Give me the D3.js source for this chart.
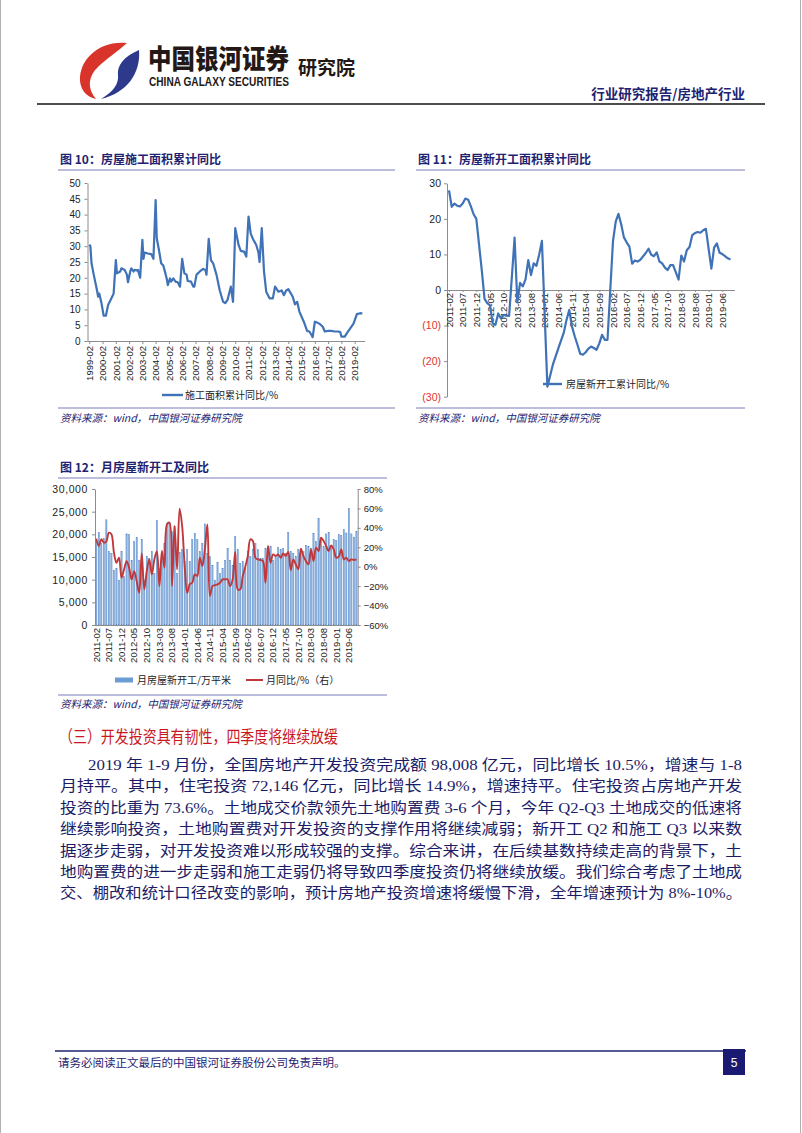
<!DOCTYPE html>
<html><head><meta charset="utf-8">
<script src="https://cdn.jsdelivr.net/npm/d3@7"></script>
<style>
html,body{margin:0;padding:0;background:#fff;}
svg{display:block;}
</style></head><body>
<svg id="page" width="802" height="1133"></svg>
<script>
// ---------------- DATA ----------------
// Fig 10: 房屋施工面积累计同比 (%)
const dates10 = ["1999-02","1999-03","1999-04","1999-06","1999-09","1999-10","1999-11","2000-01","2000-03","2000-05","2000-07","2000-10","2000-12",
"2001-02","2001-03","2001-06","2001-07","2001-10","2001-12","2002-01","2002-03","2002-04","2002-06","2002-07","2002-09","2002-10","2002-12",
"2003-02","2003-03","2003-04","2003-07","2003-10","2003-12","2004-02","2004-03","2004-05","2004-07","2004-09","2004-10","2004-12",
"2005-01","2005-03","2005-04","2005-06","2005-08","2005-10","2005-12","2006-02","2006-04","2006-06","2006-07","2006-10","2006-12",
"2007-01","2007-03","2007-06","2007-09","2007-11","2007-12","2008-02","2008-04","2008-06","2008-09","2008-12","2009-03","2009-05","2009-07","2009-10","2009-12",
"2010-02","2010-05","2010-07","2010-10","2010-12","2011-02","2011-04","2011-06","2011-09","2011-11","2011-12","2012-02","2012-04","2012-06","2012-09","2012-12",
"2013-02","2013-05","2013-08","2013-10","2013-12","2014-02","2014-06","2014-08","2014-10","2014-12","2015-04","2015-07","2015-09","2015-11","2015-12",
"2016-02","2016-03","2016-06","2016-09","2016-11","2017-02","2017-05","2017-08","2017-11","2018-01","2018-02","2018-05","2018-07","2018-10","2019-01","2019-04","2019-07","2019-09"];
const values10 = [30.5,30,24.6,21,16,14,15,12,8,8,11.4,13.5,15,
25.6,21.4,22,23,22.5,21,18.6,22,23,22,22.5,22.3,22.5,20,
32,26,28,27.7,27.5,26,44.6,32.5,28.8,24.6,23.8,22.5,19.8,
17.7,19.8,18.8,19.8,18.8,18.6,17.2,26,21.4,21,19,18.8,17.2,
17.2,21,22,22.8,22.5,21,32.3,25.6,24.6,21,16,12.4,12,13,17.2,12.4,
35.7,30.4,28.5,28.3,26.7,39.4,34,32.3,30.4,28,25,35.7,22,15.6,13.5,13.5,
17.2,15.6,16,14.5,16,16.4,14,11.6,12.4,9.3,6.1,3.2,3,1.9,1.2,
6.1,6,5.5,4.6,3,3.2,3.2,3.0,3.0,2.8,1.4,1.4,2.5,4,5.5,8.5,8.8,8.7];
const xLabels10 = ["1999-02","2000-02","2001-02","2002-02","2003-02","2004-02","2005-02","2006-02","2007-02","2008-02","2009-02","2010-02","2011-02","2012-02","2013-02","2014-02","2015-02","2016-02","2017-02","2018-02","2019-02"];
const yTicks10 = [0,5,10,15,20,25,30,35,40,45,50];

// Fig 11: 房屋新开工累计同比 (%)
const dates11 = ["2011-02","2011-03","2011-04","2011-05","2011-06","2011-07","2011-08","2011-09","2011-10","2011-11","2011-12",
"2012-02","2012-03","2012-04","2012-05","2012-06","2012-07","2012-08","2012-09","2012-10","2012-11","2012-12",
"2013-02","2013-03","2013-04","2013-05","2013-06","2013-07","2013-08","2013-09","2013-10","2013-11","2013-12",
"2014-02","2014-04","2014-06","2014-08","2014-09","2014-10","2014-11","2014-12",
"2015-01","2015-02","2015-03","2015-04","2015-05","2015-06","2015-07","2015-08","2015-09","2015-10","2015-11","2015-12",
"2016-02","2016-03","2016-04","2016-05","2016-06","2016-07","2016-08","2016-09","2016-10","2016-11","2016-12",
"2017-02","2017-03","2017-04","2017-05","2017-06","2017-07","2017-08","2017-09","2017-10","2017-11","2017-12",
"2018-02","2018-03","2018-04","2018-05","2018-06","2018-07","2018-08","2018-09","2018-10","2018-11","2018-12",
"2019-02","2019-03","2019-04","2019-05","2019-06","2019-07","2019-08","2019-09"];
const values11 = [28,23.4,24.3,23.7,23.5,24.3,25.7,25.4,23.5,21.3,20,
5.5,-2.5,-3.7,-4.3,-9.4,-9.8,-6.6,-8,-7,-7.2,-7.3,
14.7,-3.5,2,1,3,8.4,4.2,7.5,6.8,10,13.8,
-27.2,-21,-16.4,-12,-8.4,-5.6,-10.3,-13,
-15.4,-17.9,-18.2,-17.5,-16.5,-15.9,-16.3,-16.8,-15,-12.6,-14,-14,
13.7,19.2,21.4,18.5,14.8,13.4,12.2,7.4,8.3,8.0,8.5,
10.4,11.6,9.9,9.5,10.6,8.0,7.5,6.3,5.6,7.0,7.0,
2.9,9.7,8.0,11.2,12.1,15.4,16.0,16.3,16.1,16.8,17.2,
6.0,11.9,13.1,10.5,10.1,9.5,8.9,8.6];
const xLabels11 = ["2011-02","2011-07","2011-12","2012-05","2012-10","2013-03","2013-08","2014-01","2014-06","2014-11","2015-04","2015-09","2016-02","2016-07","2016-12","2017-05","2017-10","2018-03","2018-08","2019-01","2019-06"];
const yTicks11 = [-30,-20,-10,0,10,20,30];

// Fig 12: 月房屋新开工 (万平米) & 月同比 (%), 2011-02 .. 2019-09
const starts12 = [18600,20400,18000,19100,23200,16200,15800,12100,12500,9900,16200,10700,
20100,19900,14300,18400,19300,14300,18900,9900,15100,14700,16200,11400,
23000,12500,15100,18000,22400,22400,20600,21700,11400,16000,16600,14000,
16600,14000,18800,20200,18800,16200,18000,22300,15800,15100,13200,9900,
13800,11400,12500,14300,16900,14300,13200,19500,16600,13600,14000,12500,
16200,15100,16700,18000,16600,14700,14700,16900,15700,17300,14300,15100,
17100,16600,16900,15800,20400,16200,15800,15200,16700,16400,16200,17600,
17300,16900,20200,18400,23500,19100,17300,20100,20400,17600,18800,18700,
19900,19800,21000,20300,25700,20100,19400,20600];
const yoy12 = [28.9,21.4,28.2,24.8,26,35,33.3,14.4,4.1,9.3,-11.3,-2.8,
5.8,-1.0,-13,-4.5,-14.8,-26.8,13.7,-23.3,-4.5,7.5,-7.9,7.5,
16.1,-20,16.1,-1,43.6,45.3,-20,41.9,-2.8,59.7,41.9,0.6,
-26.8,-18,-16.5,-7.9,-9.6,9.3,0.6,17.8,43.6,-30.2,-20,-19,
-18.2,-16.5,-13,-13,-13,-20,-13,15.1,-23.3,-23.3,-9.6,0,
11,28.2,26.5,9.3,7.5,6.9,5.8,-16.5,21.4,4.1,12.7,11.0,
12.7,9.3,13.7,11.0,15.1,-3.5,7.5,2.4,-2.8,18.5,11.0,5.8,
2.4,17.8,5.8,19.5,16.1,29.9,26.5,21.4,16.1,22.0,17.8,9.3,
10.3,17.8,7.5,9.3,5.8,7.5,6.9,7.5];
const leftTicks12 = [0,5000,10000,15000,20000,25000,30000];
const rightTicks12 = [-60,-40,-20,0,20,40,60,80];

const bodyLines = [
"2019 年 1-9 月份，全国房地产开发投资完成额 98,008 亿元，同比增长 10.5%，增速与 1-8",
"月持平。其中，住宅投资 72,146 亿元，同比增长 14.9%，增速持平。住宅投资占房地产开发",
"投资的比重为 73.6%。土地成交价款领先土地购置费 3-6 个月，今年 Q2-Q3 土地成交的低速将",
"继续影响投资，土地购置费对开发投资的支撑作用将继续减弱；新开工 Q2 和施工 Q3 以来数",
"据逐步走弱，对开发投资难以形成较强的支撑。综合来讲，在后续基数持续走高的背景下，土",
"地购置费的进一步走弱和施工走弱仍将导致四季度投资仍将继续放缓。我们综合考虑了土地成",
"交、棚改和统计口径改变的影响，预计房地产投资增速将缓慢下滑，全年增速预计为 8%-10%。"];

// ---------------- DRAW ----------------
const svg = d3.select('#page');
const CJK = '"Noto Sans CJK SC", sans-serif';
const LAT = '"Liberation Sans", Arial, sans-serif';
const NAVY = '#1e2270';
const BLUE = '#3f72b6';
const RED = '#c0383a';
const RULE = '#7b7bb8';

svg.append('rect').attr('width',802).attr('height',1133).attr('fill','#fff');
svg.append('line').attr('x1',0.5).attr('x2',0.5).attr('y1',0).attr('y2',1133).attr('stroke','#b0b0b0');
svg.append('line').attr('x1',800.5).attr('x2',800.5).attr('y1',0).attr('y2',1133).attr('stroke','#b0b0b0');

// Header logo
svg.append('path').attr('fill','#d9342b')
  .attr('d','M127,43 C101,40 79,58 80,81 C81,91 87,97 96,99 C87,89 88,76 98,67 C106,59 117,52 127,43 Z');
svg.append('path').attr('fill','#2d3a8c')
  .attr('d','M139,50 C141,73 127,93 101,99 C113,92 119,84 118,75 C117,66 123,57 139,50 Z');
svg.append('text').attr('transform','translate(148,69) scale(1,1.15)').text('中国银河证券')
  .attr('font-family',CJK).attr('font-weight',900).attr('font-size',23.5).attr('fill','#231815');
svg.append('text').attr('x',149).attr('y',86).text('CHINA GALAXY SECURITIES')
  .attr('font-family','"Liberation Sans Narrow", "Liberation Sans", Arial, sans-serif').attr('font-weight','bold')
  .attr('font-size',12).attr('fill','#231815').attr('textLength',140).attr('lengthAdjust','spacingAndGlyphs');
svg.append('text').attr('x',298).attr('y',75).text('研究院')
  .attr('font-family',CJK).attr('font-weight',700).attr('font-size',19).attr('fill','#231815');
svg.append('text').attr('x',745).attr('y',99).text('行业研究报告/房地产行业').attr('text-anchor','end')
  .attr('font-family',CJK).attr('font-weight',700).attr('font-size',13.5).attr('fill',NAVY);
svg.append('line').attr('x1',37).attr('x2',765).attr('y1',104).attr('y2',104).attr('stroke','#111').attr('stroke-width',1.6);

// helpers
function mIdx(s, base){ const [y,m]=s.split('-').map(Number); const [by,bm]=base.split('-').map(Number); return (y-by)*12+(m-bm); }
function styleAxis(g, fs){
  g.selectAll('path.domain').attr('stroke','#8c8c8c');
  g.selectAll('.tick line').attr('stroke','#8c8c8c');
  g.selectAll('text').attr('font-family',LAT).attr('font-size',fs).attr('fill','#222');
}
function chartFrame(x1,x2,yTitle,title,yBottom,ySrc){
  svg.append('text').attr('x',x1+2).attr('y',yTitle).text(title)
    .attr('font-family',CJK).attr('font-weight',700).attr('font-size',12).attr('fill',NAVY);
  svg.append('line').attr('x1',x1).attr('x2',x2).attr('y1',yTitle+6).attr('y2',yTitle+6).attr('stroke',RULE);
  svg.append('line').attr('x1',x1).attr('x2',x2).attr('y1',yBottom).attr('y2',yBottom).attr('stroke',RULE);
  svg.append('text').attr('x',x1+2).attr('y',ySrc).text('资料来源：wind，中国银河证券研究院')
    .attr('font-family',CJK).attr('font-style','italic').attr('font-size',10.5).attr('fill',NAVY);
}

// ---- Fig 10 ----
chartFrame(58,395,164,'图 10：房屋施工面积累计同比',408,422);
const x10 = d3.scaleLinear().domain([0,247]).range([89.3,362.4]);
const y10 = d3.scaleLinear().domain([0,50]).range([341,183]);
const gy10 = svg.append('g').attr('transform','translate(87.5,0)')
  .call(d3.axisLeft(y10).tickValues(yTicks10).tickSize(3).tickPadding(4).tickSizeOuter(0));
styleAxis(gy10,10);
const gx10 = svg.append('g').attr('transform','translate(0,341)')
  .call(d3.axisBottom(x10).tickValues(xLabels10.map(s=>mIdx(s,'1999-02'))).tickSize(3).tickSizeOuter(0)
    .tickFormat((d,i)=>xLabels10[i]));
gx10.select('path.domain').attr('d','M87.5,0.5H365');
styleAxis(gx10,9.5);
gx10.selectAll('.tick text').attr('transform','translate(0,5) rotate(-90)').attr('text-anchor','end')
  .attr('x',0).attr('y',0).attr('dy','0.35em');
const pts10 = dates10.map((d,i)=>[mIdx(d,'1999-02'),values10[i]]);
svg.append('path').datum(pts10).attr('fill','none').attr('stroke',BLUE).attr('stroke-width',2.2)
  .attr('stroke-linejoin','round')
  .attr('d',d3.line().x(d=>x10(d[0])).y(d=>y10(d[1])));
svg.append('line').attr('x1',162).attr('x2',183).attr('y1',395).attr('y2',395).attr('stroke',BLUE).attr('stroke-width',2.4);
svg.append('text').attr('x',185).attr('y',399).text('施工面积累计同比/%')
  .attr('font-family',CJK).attr('font-size',10).attr('fill','#222');

// ---- Fig 11 ----
chartFrame(416,745,164,'图 11：房屋新开工面积累计同比',408,422);
const x11 = d3.scaleLinear().domain([0,103]).range([449,730.5]);
const y11 = d3.scaleLinear().domain([-30,30]).range([396.7,183.3]);
const gy11 = svg.append('g').attr('transform','translate(447,0)')
  .call(d3.axisLeft(y11).tickValues(yTicks11).tickSize(3).tickPadding(3).tickSizeOuter(0)
    .tickFormat(d=> d<0 ? '('+Math.abs(d)+')' : String(d)));
styleAxis(gy11,10.5);
gy11.selectAll('.tick text').attr('fill',d=> d<0 ? '#e0322c' : '#222');
const gx11 = svg.append('g').attr('transform','translate(0,'+y11(0)+')')
  .call(d3.axisBottom(x11).tickValues(xLabels11.map(s=>mIdx(s,'2011-02'))).tickSize(2).tickSizeOuter(0)
    .tickFormat((d,i)=>xLabels11[i]));
gx11.select('path.domain').attr('d','M447,0.5H735');
styleAxis(gx11,9.5);
gx11.selectAll('.tick text').attr('transform','translate(0,3) rotate(-90)').attr('text-anchor','end')
  .attr('x',0).attr('y',0).attr('dy','0.35em');
const pts11 = dates11.map((d,i)=>[mIdx(d,'2011-02'),values11[i]]);
svg.append('path').datum(pts11).attr('fill','none').attr('stroke',BLUE).attr('stroke-width',2.2)
  .attr('stroke-linejoin','round')
  .attr('d',d3.line().x(d=>x11(d[0])).y(d=>y11(d[1])));
svg.append('line').attr('x1',543).attr('x2',562).attr('y1',384).attr('y2',384).attr('stroke',BLUE).attr('stroke-width',2.4);
svg.append('text').attr('x',566).attr('y',388).text('房屋新开工累计同比/%')
  .attr('font-family',CJK).attr('font-size',10).attr('fill','#222');

// ---- Fig 12 ----
chartFrame(58,387,472,'图 12：月房屋新开工及同比',695,708);
const months12 = d3.range(starts12.length).map(i=>{ const t=1+i; const y=2011+Math.floor(t/12); const m=(t%12)+1; return y+'-'+String(m).padStart(2,'0'); });
const x12 = d3.scaleBand().domain(months12).range([95,357.7]).paddingInner(0.5).paddingOuter(0.25);
const yL = d3.scaleLinear().domain([0,30000]).range([625,489]);
const yR = d3.scaleLinear().domain([-60,80]).range([625,489]);
svg.append('g').selectAll('rect').data(starts12).join('rect')
  .attr('x',(d,i)=>x12(months12[i])).attr('width',x12.bandwidth())
  .attr('y',d=>yL(d)).attr('height',d=>625-yL(d))
  .attr('fill','#8fb5e2').attr('stroke','#4c7fc0').attr('stroke-width',0.4);
const gyL = svg.append('g').attr('transform','translate(95,0)')
  .call(d3.axisLeft(yL).tickValues(leftTicks12).tickSize(3).tickPadding(4).tickSizeOuter(0).tickFormat(d3.format(',')));
styleAxis(gyL,10.5);
gyL.selectAll('.tick text').attr('letter-spacing',0.6);
const gyR = svg.append('g').attr('transform','translate(357.7,0)')
  .call(d3.axisRight(yR).tickValues(rightTicks12).tickSize(3).tickPadding(3).tickSizeOuter(0)
    .tickFormat(d=> (d<0?'−':'')+Math.abs(d)+'%'));
styleAxis(gyR,9.5);
const lab12 = months12.filter((d,i)=>i%5===0);
const gx12 = svg.append('g').attr('transform','translate(0,625)')
  .call(d3.axisBottom(x12).tickValues(lab12).tickSize(0).tickSizeOuter(0));
gx12.select('path.domain').attr('d','M95,0.5H357.7');
styleAxis(gx12,9.5);
gx12.selectAll('.tick text').attr('transform','translate(0,3) rotate(-90)').attr('text-anchor','end')
  .attr('x',0).attr('y',0).attr('dy','0.35em');
svg.append('path').datum(yoy12).attr('fill','none').attr('stroke',RED).attr('stroke-width',1.9)
  .attr('stroke-linejoin','round')
  .attr('d',d3.line().curve(d3.curveCatmullRom.alpha(0.5))
    .x((d,i)=>x12(months12[i])+x12.bandwidth()/2).y(d=>yR(d)));
svg.append('rect').attr('x',115).attr('y',677.5).attr('width',18).attr('height',5).attr('fill','#6d9bd3');
svg.append('text').attr('x',137).attr('y',684).text('月房屋新开工/万平米')
  .attr('font-family',CJK).attr('font-size',10).attr('fill','#222');
svg.append('line').attr('x1',246).attr('x2',263).attr('y1',680).attr('y2',680).attr('stroke',RED).attr('stroke-width',2);
svg.append('text').attr('x',266).attr('y',684).text('月同比/%（右）')
  .attr('font-family',CJK).attr('font-size',10).attr('fill','#222');

// ---- Text section ----
svg.append('text').attr('x',59).attr('y',743).text('（三）开发投资具有韧性，四季度将继续放缓')
  .attr('font-family',CJK).attr('font-size',17).attr('fill','#c8171e')
  .attr('textLength',279).attr('lengthAdjust','spacingAndGlyphs');
const lineY0 = 770, lineGap = 21.4;
bodyLines.forEach((t,i)=>{
  const x0 = i===0 ? 88 : 60;
  svg.append('text').attr('x',x0).attr('y',lineY0+i*lineGap).text(t)
    .attr('font-family','"Liberation Serif", "Noto Sans CJK SC", serif').attr('font-size',15)
    .attr('fill','#1c1c66').attr('textLength',742-x0).attr('lengthAdjust','spacingAndGlyphs');
});

// ---- Footer ----
svg.append('line').attr('x1',55).attr('x2',746).attr('y1',1051).attr('y2',1051).attr('stroke',NAVY).attr('stroke-width',1.5);
svg.append('text').attr('x',58).attr('y',1067).text('请务必阅读正文最后的中国银河证券股份公司免责声明。')
  .attr('font-family',CJK).attr('font-size',11.5).attr('fill',NAVY);
svg.append('rect').attr('x',723).attr('y',1049).attr('width',22).attr('height',26).attr('fill','#1a1a72');
svg.append('text').attr('x',734).attr('y',1067).text('5').attr('text-anchor','middle')
  .attr('font-family',LAT).attr('font-size',12).attr('fill','#fff');
</script></body></html>
